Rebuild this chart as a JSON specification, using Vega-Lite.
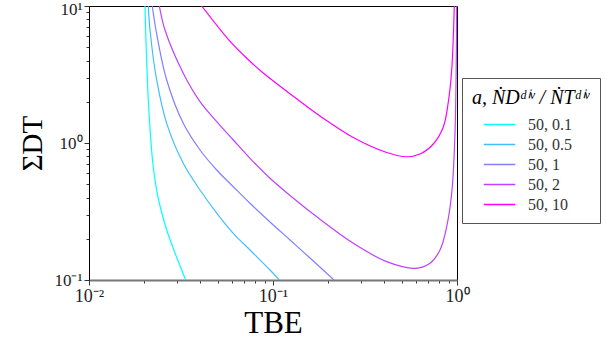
{
  "$schema": "https://vega.github.io/schema/vega-lite/v6.json",
  "width": 368,
  "height": 274,
  "autosize": {"type": "none"},
  "padding": {"left": 89, "top": 6, "right": 149, "bottom": 63},
  "background": "white",
  "config": {
    "view": {"stroke": "black", "strokeWidth": 1},
    "font": "Liberation Serif"
  },
  "data": {
    "values": [
      {"s": "50, 0.1", "x": 0.02015, "y": 10},
      {"s": "50, 0.1", "x": 0.02048, "y": 4.773},
      {"s": "50, 0.1", "x": 0.02100, "y": 2.06},
      {"s": "50, 0.1", "x": 0.02154, "y": 1.183},
      {"s": "50, 0.1", "x": 0.02228, "y": 0.6909},
      {"s": "50, 0.1", "x": 0.02332, "y": 0.4537},
      {"s": "50, 0.1", "x": 0.02462, "y": 0.3243},
      {"s": "50, 0.1", "x": 0.02644, "y": 0.2317},
      {"s": "50, 0.1", "x": 0.02934, "y": 0.1574},
      {"s": "50, 0.1", "x": 0.03324, "y": 0.1029},
      {"s": "50, 0.1", "x": 0.03350, "y": 0.1},
      {"s": "50, 0.5", "x": 0.02100, "y": 10},
      {"s": "50, 0.5", "x": 0.02146, "y": 6.68},
      {"s": "50, 0.5", "x": 0.02332, "y": 2.884},
      {"s": "50, 0.5", "x": 0.02644, "y": 1.392},
      {"s": "50, 0.5", "x": 0.03254, "y": 0.7109},
      {"s": "50, 0.5", "x": 0.04011, "y": 0.4537},
      {"s": "50, 0.5", "x": 0.04943, "y": 0.3083},
      {"s": "50, 0.5", "x": 0.06084, "y": 0.2193},
      {"s": "50, 0.5", "x": 0.07499, "y": 0.1656},
      {"s": "50, 0.5", "x": 0.09632, "y": 0.1183},
      {"s": "50, 0.5", "x": 0.1084, "y": 0.1},
      {"s": "50, 1", "x": 0.02208, "y": 10},
      {"s": "50, 1", "x": 0.02312, "y": 6.68},
      {"s": "50, 1", "x": 0.02644, "y": 2.884},
      {"s": "50, 1", "x": 0.03254, "y": 1.392},
      {"s": "50, 1", "x": 0.04011, "y": 0.889},
      {"s": "50, 1", "x": 0.04943, "y": 0.6352},
      {"s": "50, 1", "x": 0.06084, "y": 0.4797},
      {"s": "50, 1", "x": 0.07499, "y": 0.363},
      {"s": "50, 1", "x": 0.09632, "y": 0.2651},
      {"s": "50, 1", "x": 0.1237, "y": 0.1959},
      {"s": "50, 1", "x": 0.1589, "y": 0.1447},
      {"s": "50, 1", "x": 0.2146, "y": 0.1},
      {"s": "50, 2", "x": 0.02411, "y": 10},
      {"s": "50, 2", "x": 0.02588, "y": 6.68},
      {"s": "50, 2", "x": 0.03254, "y": 3.227},
      {"s": "50, 2", "x": 0.04011, "y": 2.002},
      {"s": "50, 2", "x": 0.04943, "y": 1.431},
      {"s": "50, 2", "x": 0.06084, "y": 1.052},
      {"s": "50, 2", "x": 0.07499, "y": 0.7731},
      {"s": "50, 2", "x": 0.09632, "y": 0.5525},
      {"s": "50, 2", "x": 0.1237, "y": 0.4138},
      {"s": "50, 2", "x": 0.1800, "y": 0.2774},
      {"s": "50, 2", "x": 0.2732, "y": 0.1853},
      {"s": "50, 2", "x": 0.4148, "y": 0.1361},
      {"s": "50, 2", "x": 0.5911, "y": 0.1217},
      {"s": "50, 2", "x": 0.7135, "y": 0.1324},
      {"s": "50, 2", "x": 0.8083, "y": 0.1656},
      {"s": "50, 2", "x": 0.8790, "y": 0.2449},
      {"s": "50, 2", "x": 0.9359, "y": 0.4294},
      {"s": "50, 2", "x": 0.9752, "y": 1.177},
      {"s": "50, 2", "x": 0.9963, "y": 10},
      {"s": "50, 10", "x": 0.04097, "y": 10},
      {"s": "50, 10", "x": 0.05716, "y": 5.713},
      {"s": "50, 10", "x": 0.07044, "y": 4.279},
      {"s": "50, 10", "x": 0.08682, "y": 3.314},
      {"s": "50, 10", "x": 0.1317, "y": 2.148},
      {"s": "50, 10", "x": 0.1800, "y": 1.574},
      {"s": "50, 10", "x": 0.2732, "y": 1.097},
      {"s": "50, 10", "x": 0.4148, "y": 0.8526},
      {"s": "50, 10", "x": 0.5328, "y": 0.794},
      {"s": "50, 10", "x": 0.6293, "y": 0.8312},
      {"s": "50, 10", "x": 0.7434, "y": 0.9833},
      {"s": "50, 10", "x": 0.8423, "y": 1.308},
      {"s": "50, 10", "x": 0.8970, "y": 1.992},
      {"s": "50, 10", "x": 0.9359, "y": 3.411},
      {"s": "50, 10", "x": 0.9667, "y": 10}
    ]
  },
  "mark": {"type": "line", "clip": true, "interpolate": "catmull-rom", "strokeWidth": 1.2},
  "encoding": {
    "x": {
      "field": "x",
      "type": "quantitative",
      "scale": {"type": "log", "domain": [0.01, 1], "nice": false},
      "axis": {
        "title": "TBE",
        "titleFont": "Liberation Serif",
        "titleFontSize": 31,
        "titleFontWeight": "normal",
        "titleColor": "black",
        "titlePadding": 3,
        "values": [0.01, 0.02, 0.03, 0.04, 0.05, 0.06, 0.07, 0.08, 0.09, 0.1, 0.2, 0.3, 0.4, 0.5, 0.6, 0.7, 0.8, 0.9, 1],
        "labelExpr": "datum.value == 0.01 ? '10⁻²' : datum.value == 0.1 ? '10⁻¹' : datum.value == 1 ? '10⁰' : ''",
        "labelOverlap": false,
        "labelFlush": false,
        "labelFont": "Liberation Serif",
        "labelFontSize": 18,
        "labelColor": "#222",
        "labelPadding": 2,
        "grid": false,
        "domainColor": "#777",
        "domainWidth": 2,
        "tickColor": "#333",
        "tickSize": {"condition": {"test": "datum.value == 0.01 || datum.value == 0.1 || datum.value == 1", "value": 5}, "value": 3}
      }
    },
    "y": {
      "field": "y",
      "type": "quantitative",
      "scale": {"type": "log", "domain": [0.1, 10], "nice": false},
      "axis": {
        "title": "ΣDT",
        "titleFont": "Liberation Serif",
        "titleFontSize": 29,
        "titleFontWeight": "normal",
        "titleColor": "black",
        "titlePadding": 6,
        "values": [0.1, 0.2, 0.3, 0.4, 0.5, 0.6, 0.7, 0.8, 0.9, 1, 2, 3, 4, 5, 6, 7, 8, 9, 10],
        "labelExpr": "datum.value == 0.1 ? '10⁻¹' : datum.value == 1 ? '10⁰' : datum.value == 10 ? '10¹' : ''",
        "labelOverlap": false,
        "labelFlush": false,
        "labelOffset": {"condition": {"test": "datum.value == 10", "value": 3}, "value": 0},
        "labelFont": "Liberation Serif",
        "labelFontSize": 17,
        "labelColor": "#222",
        "labelPadding": 2,
        "grid": false,
        "domainColor": "black",
        "tickColor": "#333",
        "tickSize": {"condition": {"test": "datum.value == 0.1 || datum.value == 1 || datum.value == 10", "value": 5}, "value": 3}
      }
    },
    "color": {
      "field": "s",
      "type": "nominal",
      "sort": ["50, 0.1", "50, 0.5", "50, 1", "50, 2", "50, 10"],
      "scale": {
        "domain": ["50, 0.1", "50, 0.5", "50, 1", "50, 2", "50, 10"],
        "range": ["#00ffff", "#40bfff", "#8080ff", "#bf40ff", "#ff00ff"]
      },
      "legend": {
        "title": "a, ṄDᵈⁱᵛ / ṄTᵈⁱᵛ",
        "orient": "none",
        "legendX": 373,
        "legendY": 72,
        "titleFont": "Liberation Serif",
        "titleFontSize": 20,
        "titleFontWeight": "normal",
        "titleFontStyle": "italic",
        "titleColor": "black",
        "titlePadding": 5,
        "labelFont": "Liberation Serif",
        "labelFontSize": 16,
        "labelColor": "#333",
        "labelOffset": 17,
        "symbolType": "M-1.5,0H1.5",
        "symbolSize": 441,
        "symbolOffset": 16,
        "symbolStrokeWidth": 1.5,
        "rowPadding": 0,
        "padding": 10,
        "strokeColor": "#555",
        "fillColor": "white",
        "offset": 0
      }
    }
  }
}
